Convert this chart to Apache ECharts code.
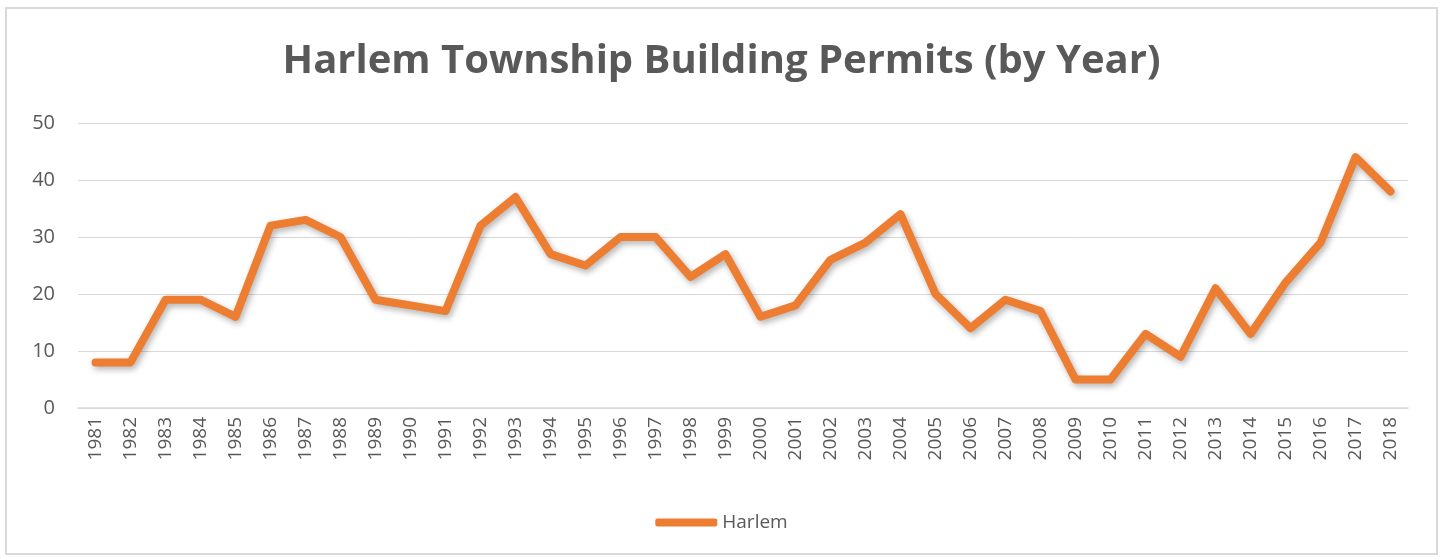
<!DOCTYPE html>
<html>
<head>
<meta charset="utf-8">
<script src="https://cdn.jsdelivr.net/npm/echarts@6/dist/echarts.min.js"></script>
<style>
  html, body { margin: 0; padding: 0; background: #fff; }
  #chart { position: absolute; left: 5px; top: 7px; width: 1433px; height: 548px; border: 2px solid #d9d9d9; box-sizing: border-box; }
</style>
</head>
<body>
<div id="chart"></div>
<script>
var years = ['1981','1982','1983','1984','1985','1986','1987','1988','1989','1990',
  '1991','1992','1993','1994','1995','1996','1997','1998','1999','2000',
  '2001','2002','2003','2004','2005','2006','2007','2008','2009','2010',
  '2011','2012','2013','2014','2015','2016','2017','2018'];
var harlem = [8, 8, 19, 19, 16, 32, 33, 30, 19, 18,
  17, 32, 37, 27, 25, 30, 30, 23, 27, 16,
  18, 26, 29, 34, 20, 14, 19, 17, 5, 5,
  13, 9, 21, 13, 22, 29, 44, 38];
var yTicks = [0, 50, 10];

var myChart = echarts.init(document.getElementById('chart'));
var option = {
  animation: false,
  title: {
    text: 'Harlem Township Building Permits (by Year)',
    left: 'center',
    top: 28,
    textStyle: { fontFamily: 'Open Sans', fontWeight: 'bold', fontSize: 40, color: '#595959' }
  },
  legend: {
    bottom: 16,
    left: 'center',
    itemWidth: 62,
    itemHeight: 8,
    icon: 'roundRect',
    textStyle: { fontFamily: 'Open Sans', fontSize: 19, color: '#595959' },
    data: ['Harlem']
  },
  grid: { left: 71, right: 28, top: 114, bottom: 145 },
  xAxis: {
    type: 'category',
    data: years,
    boundaryGap: true,
    axisLine: { lineStyle: { color: '#d9d9d9', width: 1.5 } },
    axisTick: { show: false },
    axisLabel: { rotate: 90, interval: 0, fontFamily: 'Open Sans', fontSize: 19, color: '#595959', margin: 9 }
  },
  yAxis: {
    type: 'value',
    min: yTicks[0],
    max: yTicks[1],
    interval: yTicks[2],
    axisLine: { show: false },
    axisTick: { show: false },
    splitLine: { lineStyle: { color: '#d9d9d9', width: 1 } },
    axisLabel: { fontFamily: 'Open Sans', fontSize: 20, color: '#595959', margin: 23 }
  },
  series: [{
    name: 'Harlem',
    type: 'line',
    data: harlem,
    symbol: 'none',
    lineStyle: {
      color: '#ED7D31',
      width: 8,
      cap: 'round',
      join: 'round',
      shadowColor: 'rgba(0,0,0,0.3)',
      shadowBlur: 6,
      shadowOffsetX: 2,
      shadowOffsetY: 3
    },
    itemStyle: { color: '#ED7D31' }
  }]
};
myChart.setOption(option);
window.addEventListener('resize', function () { myChart.resize(); });
</script>
</body>
</html>
